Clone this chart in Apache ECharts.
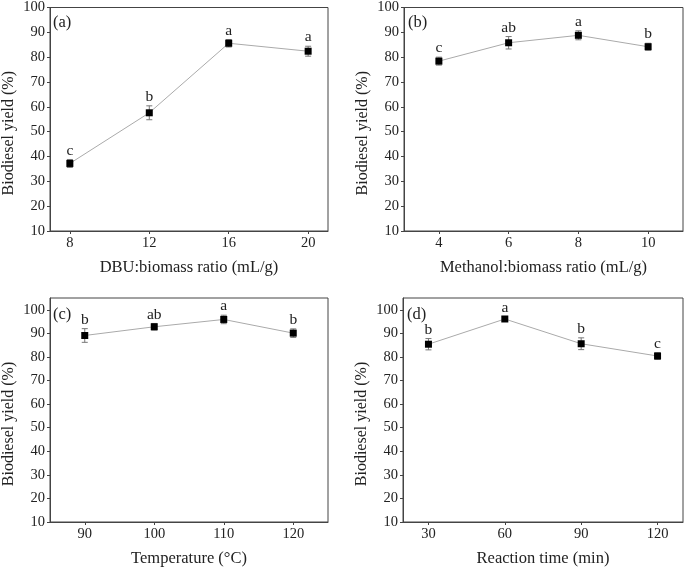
<!DOCTYPE html>
<html>
<head>
<meta charset="utf-8">
<script src="https://cdn.jsdelivr.net/npm/echarts@6/dist/echarts.min.js"></script>
<style>
  html, body { margin: 0; padding: 0; background: #fff; }
  #chart { width: 685px; height: 568px; }
</style>
</head>
<body>
<div id="chart"></div>
<script>
// (a) DBU:biomass ratio
const dbuRatio = [8, 12, 16, 20]
const yieldA = [37.2, 57.6, 85.6, 82.4]
const errA = [1.6, 2.8, 1.5, 2.0]
const letterA = ['c', 'b', 'a', 'a']

// (b) Methanol:biomass ratio
const meohRatio = [4, 6, 8, 10]
const yieldB = [78.4, 85.8, 88.8, 84.2]
const errB = [1.6, 2.5, 1.8, 1.4]
const letterB = ['c', 'ab', 'a', 'b']

// (c) Temperature
const temperature = [90, 100, 110, 120]
const yieldC = [89.1, 92.8, 95.9, 90.1]
const errC = [2.9, 1.4, 1.8, 1.8]
const letterC = ['b', 'ab', 'a', 'b']

// (d) Reaction time
const reactionTime = [30, 60, 90, 120]
const yieldD = [85.4, 96.1, 85.6, 80.4]
const errD = [2.4, 0.9, 2.5, 1.4]
const letterD = ['b', 'a', 'b', 'c']

const yTicks = [10, 20, 30, 40, 50, 60, 70, 80, 90, 100]
const yName = 'Biodiesel yield (%)'

const FONT = 'Liberation Serif'
const INK = '#222'

var myChart = echarts.init(document.getElementById('chart'))

const panels = [
  { tag: '(a)', xs: dbuRatio, ys: yieldA, errs: errA, letters: letterA,
    xName: 'DBU:biomass ratio (mL/g)', xMin: 7, xMax: 21, yMax: 100,
    grid: { left: 49, top: 6, width: 279, height: 225 } },
  { tag: '(b)', xs: meohRatio, ys: yieldB, errs: errB, letters: letterB,
    xName: 'Methanol:biomass ratio (mL/g)', xMin: 3, xMax: 11, yMax: 100,
    grid: { left: 404, top: 6, width: 279, height: 225 } },
  { tag: '(c)', xs: temperature, ys: yieldC, errs: errC, letters: letterC,
    xName: 'Temperature (°C)', xMin: 85, xMax: 125, yMax: 105,
    grid: { left: 49, top: 298, width: 279, height: 225 } },
  { tag: '(d)', xs: reactionTime, ys: yieldD, errs: errD, letters: letterD,
    xName: 'Reaction time (min)', xMin: 20, xMax: 130, yMax: 105,
    grid: { left: 403, top: 298, width: 280, height: 225 } }
]

function errorBars (letters) {
  return function (params, api) {
    const x = api.value(0)
    const y = api.value(1)
    const e = api.value(2)
    const hi = api.coord([x, y + e])
    const lo = api.coord([x, y - e])
    const cap = 3
    const lineStyle = { stroke: '#777', lineWidth: 1 }
    return {
      type: 'group',
      children: [
        { type: 'line', shape: { x1: hi[0], y1: hi[1], x2: lo[0], y2: lo[1] }, style: lineStyle },
        { type: 'line', shape: { x1: hi[0] - cap, y1: hi[1], x2: hi[0] + cap, y2: hi[1] }, style: lineStyle },
        { type: 'line', shape: { x1: lo[0] - cap, y1: lo[1], x2: lo[0] + cap, y2: lo[1] }, style: lineStyle },
        { type: 'text', style: {
            text: letters[params.dataIndex], x: hi[0], y: hi[1] - 1,
            textAlign: 'center', textVerticalAlign: 'bottom',
            fontFamily: FONT, fontSize: 15.5, fill: INK } }
      ]
    }
  }
}

const grid = [], xAxis = [], yAxis = [], series = [], graphic = []

panels.forEach((p, i) => {
  grid.push(Object.assign({ show: true, borderColor: '#444', borderWidth: 1, backgroundColor: 'transparent' }, p.grid))
  xAxis.push({
    type: 'value', gridIndex: i, min: p.xMin, max: p.xMax,
    name: p.xName, nameLocation: 'middle', nameGap: 28,
    nameTextStyle: { fontFamily: FONT, fontSize: 16.5, color: INK },
    axisLine: { show: true, onZero: false, lineStyle: { color: '#444' } },
    axisTick: { show: true, length: 3, customValues: p.xs, lineStyle: { color: '#444' } },
    axisLabel: { customValues: p.xs, margin: 5, fontFamily: FONT, fontSize: 14.5, color: INK },
    splitLine: { show: false }
  })
  yAxis.push({
    type: 'value', gridIndex: i, min: 10, max: p.yMax,
    name: yName, nameLocation: 'middle', nameGap: 33,
    // name sits a little below the middle of the axis in the original
    nameTextStyle: { fontFamily: FONT, fontSize: 16, color: INK, padding: [0, 28, 0, 0] },
    axisLine: { show: true, lineStyle: { color: '#444' } },
    axisTick: { show: true, length: 3, customValues: yTicks, lineStyle: { color: '#444' } },
    axisLabel: { customValues: yTicks, margin: 5, fontFamily: FONT, fontSize: 14.5, color: INK },
    splitLine: { show: false }
  })
  series.push({
    type: 'custom', xAxisIndex: i, yAxisIndex: i, z: 2,
    renderItem: errorBars(p.letters),
    data: p.xs.map((x, k) => [x, p.ys[k], p.errs[k]]),
    encode: { x: 0, y: 1 }
  })
  series.push({
    type: 'line', xAxisIndex: i, yAxisIndex: i, z: 3,
    data: p.xs.map((x, k) => [x, p.ys[k]]),
    symbol: 'rect', symbolSize: 7,
    itemStyle: { color: '#000' },
    lineStyle: { color: '#aaa', width: 1 },
    animation: false
  })
  graphic.push({
    type: 'text', left: p.grid.left + 4, top: p.grid.top + 8,
    style: { text: p.tag, fontFamily: FONT, fontSize: 16.5, fill: INK }
  })
})

myChart.setOption({ animation: false, grid, xAxis, yAxis, series, graphic })
</script>
</body>
</html>
